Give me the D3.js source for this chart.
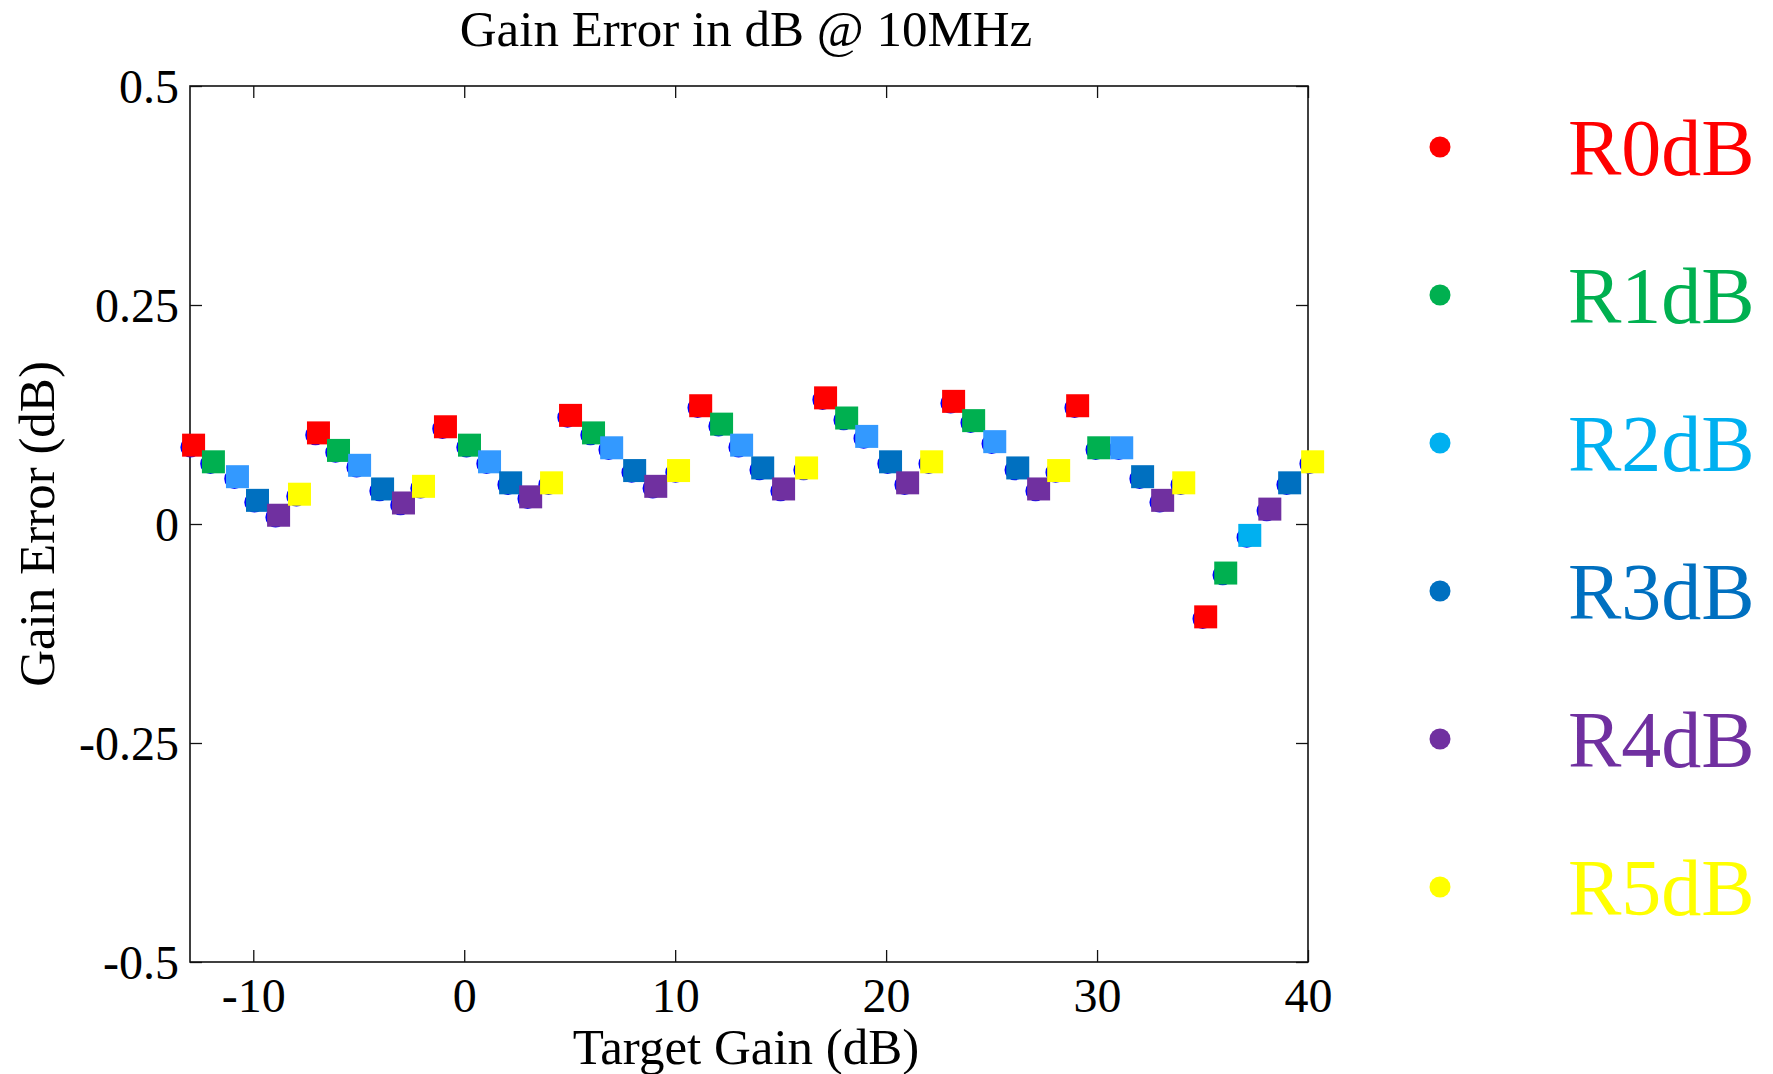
<!DOCTYPE html>
<html><head><meta charset="utf-8">
<script src="https://cdn.jsdelivr.net/npm/d3@7/dist/d3.min.js"></script>
<style>
body{margin:0;background:#fff;}
svg{display:block;}
text{font-family:"Liberation Serif","Times New Roman",serif;}
</style>
</head><body>
<svg id="chart" width="1773" height="1074"></svg>
<script>
// ---- data ----
const seriesNames = ["R0dB","R1dB","R2dB","R3dB","R4dB","R5dB"];
const legendColors = ["#FF0000","#00B050","#00B0F0","#0070C0","#7030A0","#FFFF00"];
const squareColors = ["#FF0000","#00B050","#3399FF","#0070C0","#7030A0","#FFFF00"];
const r2LastColor = "#00B0F0";

const r0x = [-12.83,-6.91,-0.89,5.04,11.21,17.13,23.20,29.08,35.15];
const r0y = [0.090,0.104,0.111,0.124,0.135,0.144,0.140,0.135,-0.106];
const r1x = [-11.89,-5.96,0.25,6.13,12.20,18.13,24.15,30.08,36.10];
const r1y = [0.071,0.084,0.090,0.104,0.114,0.121,0.118,0.087,-0.056];
const r2x = [-10.75,-4.96,1.20,6.99,13.15,19.08,25.15,31.17,37.24];
const r2y = [0.054,0.067,0.071,0.087,0.090,0.100,0.094,0.087,-0.013];
const r3x = [-9.80,-3.87,2.20,8.08,14.15,20.21,26.24,32.16,39.13];
const r3y = [0.027,0.040,0.047,0.061,0.064,0.071,0.064,0.054,0.047];
const r4x = [-8.80,-2.88,3.15,9.08,15.14,21.02,27.23,33.11,38.19];
const r4y = [0.010,0.024,0.031,0.043,0.040,0.047,0.040,0.027,0.017];
const r5x = [-7.81,-1.93,4.14,10.16,16.23,22.16,28.18,34.11,40.22];
const r5y = [0.034,0.043,0.047,0.061,0.064,0.071,0.061,0.047,0.071];

const xTicks = [-10,0,10,20,30,40];
const xTickLabels = ["-10","0","10","20","30","40"];
const yTicks = [0.5,0.25,0,-0.25,-0.5];
const yTickLabels = ["0.5","0.25","0","-0.25","-0.5"];

const titleText = "Gain Error in dB @ 10MHz";
const xLabel = "Target Gain (dB)";
const yLabel = "Gain Error (dB)";

// ---- build ----
const xs = [r0x,r1x,r2x,r3x,r4x,r5x];
const ys = [r0y,r1y,r2y,r3y,r4y,r5y];
const points = [];
xs.forEach((arr,s)=>arr.forEach((v,i)=>{
  points.push({s, i, x:v, y:ys[s][i]});
}));

const L=190, R=1308, T=86, B=962;
const x = d3.scaleLinear().domain([-13,40]).range([L,R]);
const y = d3.scaleLinear().domain([-0.5,0.5]).range([B,T]);

const svg = d3.select("#chart");
svg.append("rect").attr("width",1773).attr("height",1074).attr("fill","#fff");

// axes
const axisColor = "#111";
const gB = svg.append("g").attr("transform",`translate(0,${B})`)
  .call(d3.axisBottom(x).tickValues(xTicks).tickFormat((d,i)=>xTickLabels[i]).tickSizeInner(-12).tickSizeOuter(0).tickPadding(16));
const gT = svg.append("g").attr("transform",`translate(0,${T})`)
  .call(d3.axisTop(x).tickValues(xTicks).tickFormat("").tickSizeInner(-12).tickSizeOuter(0));
const gL = svg.append("g").attr("transform",`translate(${L},0)`)
  .call(d3.axisLeft(y).tickValues(yTicks).tickFormat((d,i)=>yTickLabels[i]).tickSizeInner(-12).tickSizeOuter(0).tickPadding(11));
const gR = svg.append("g").attr("transform",`translate(${R},0)`)
  .call(d3.axisRight(y).tickValues(yTicks).tickFormat("").tickSizeInner(-12).tickSizeOuter(0));
[gB,gT,gL,gR].forEach(g=>{
  g.select(".domain").remove();
  g.selectAll(".tick line").attr("stroke",axisColor).attr("stroke-width",1.3);
  g.selectAll(".tick text").attr("fill","#000").style("font-size","48px")
   .style("font-family",'"Liberation Serif","Times New Roman",serif');
});
gB.selectAll(".tick text").attr("dy","0.71em");
gL.selectAll(".tick text").attr("dy","0.34em");

svg.append("rect").attr("x",L).attr("y",T).attr("width",R-L).attr("height",B-T)
  .attr("fill","none").attr("stroke",axisColor).attr("stroke-width",1.6);

// blue circle markers (underneath)
svg.append("g").selectAll("circle").data(points).join("circle")
  .attr("cx",d=>x(d.x)-3).attr("cy",d=>y(d.y)+2).attr("r",9)
  .attr("fill","none").attr("stroke","#0000FF").attr("stroke-width",2.5);

// squares
const sz = 23;
svg.append("g").selectAll("rect").data(points).join("rect")
  .attr("x",d=>x(d.x)-sz/2).attr("y",d=>y(d.y)-sz/2)
  .attr("width",sz).attr("height",sz)
  .attr("fill",d=> (d.s===2 && d.i===r2x.length-1) ? r2LastColor : squareColors[d.s]);

// title & labels
svg.append("text").attr("x",746).attr("y",46).attr("text-anchor","middle")
  .style("font-size","51px").attr("fill","#000").text(titleText);
svg.append("text").attr("x",746).attr("y",1064).attr("text-anchor","middle")
  .style("font-size","51px").attr("fill","#000").text(xLabel);
svg.append("text").attr("transform","translate(54,524) rotate(-90)").attr("text-anchor","middle")
  .style("font-size","51px").attr("fill","#000").text(yLabel);

// legend
const lg = svg.append("g");
const legY = d3.scaleLinear().domain([0,5]).range([175,915]);
seriesNames.forEach((n,i)=>{
  lg.append("circle").attr("cx",1440).attr("cy",legY(i)-28).attr("r",10.5).attr("fill",legendColors[i]);
  lg.append("text").attr("x",1568).attr("y",legY(i)).style("font-size","80px")
    .attr("fill",legendColors[i]).text(n);
});
</script>
</body></html>
